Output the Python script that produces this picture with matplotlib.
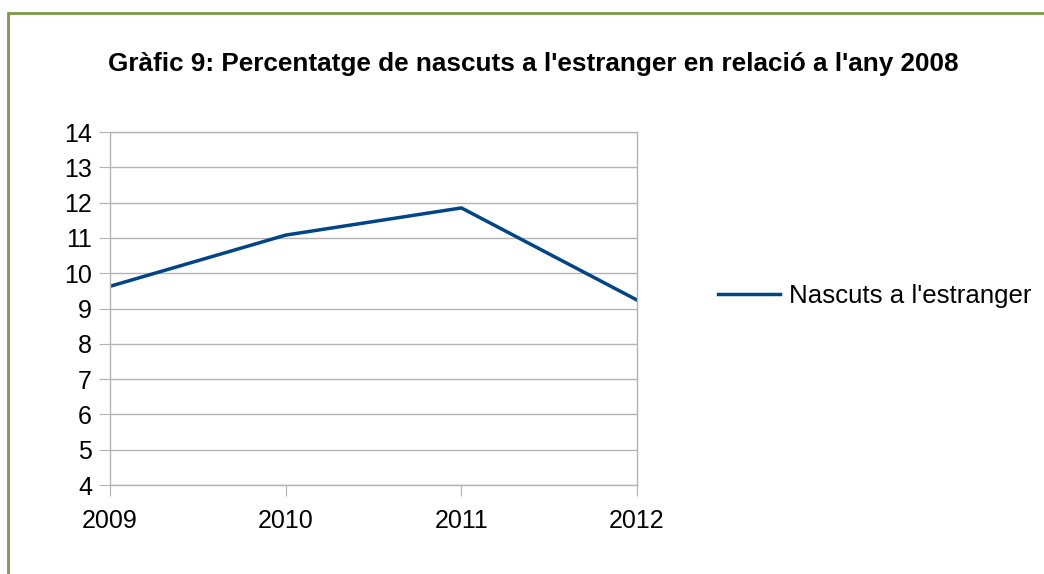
import matplotlib.pyplot as plt
from matplotlib.patches import Rectangle

plt.rcParams['font.family'] = ['Liberation Sans', 'DejaVu Sans']

# Data
years = ['2009', '2010', '2011', '2012']
values = [9.63, 11.08, 11.85, 9.24]
yticks = list(range(4, 15))

fig = plt.figure(figsize=(10.44, 5.74), dpi=100)
ax = fig.add_axes([0.1054, 0.155, 0.5048, 0.615])

x = range(len(years))
ax.plot(x, values, color='#004586', linewidth=2.5, label="Nascuts a l'estranger")

ax.set_xlim(0, len(years) - 1)
ax.set_ylim(4, 14)
ax.set_xticks(list(x))
ax.set_xticklabels(years)
ax.set_yticks(yticks)

ax.grid(axis='y', color='#b3b3b3', linewidth=1)
ax.set_axisbelow(True)
for s in ax.spines.values():
    s.set_color('#b3b3b3')
    s.set_linewidth(1)
ax.tick_params(axis='y', length=8, color='#b3b3b3', labelsize=18, pad=5)
ax.tick_params(axis='x', length=8, color='#b3b3b3', labelsize=18, pad=9)

fig.text(0.511, 0.888, "Gràfic 9: Percentatge de nascuts a l'estranger en relació a l'any 2008",
         ha='center', va='center', fontsize=18.8, fontweight='bold')

fig.legend(loc='center left', bbox_to_anchor=(0.665, 0.485), frameon=False,
           fontsize=18.6, handlelength=2.4, handletextpad=0.35)

# green frame around the chart
fig.patches.append(Rectangle((0.008, -0.1), 1.1, 1.077, transform=fig.transFigure,
                             fill=False, edgecolor='#7a9a45', linewidth=2))

fig.savefig('out.png', dpi=100)
